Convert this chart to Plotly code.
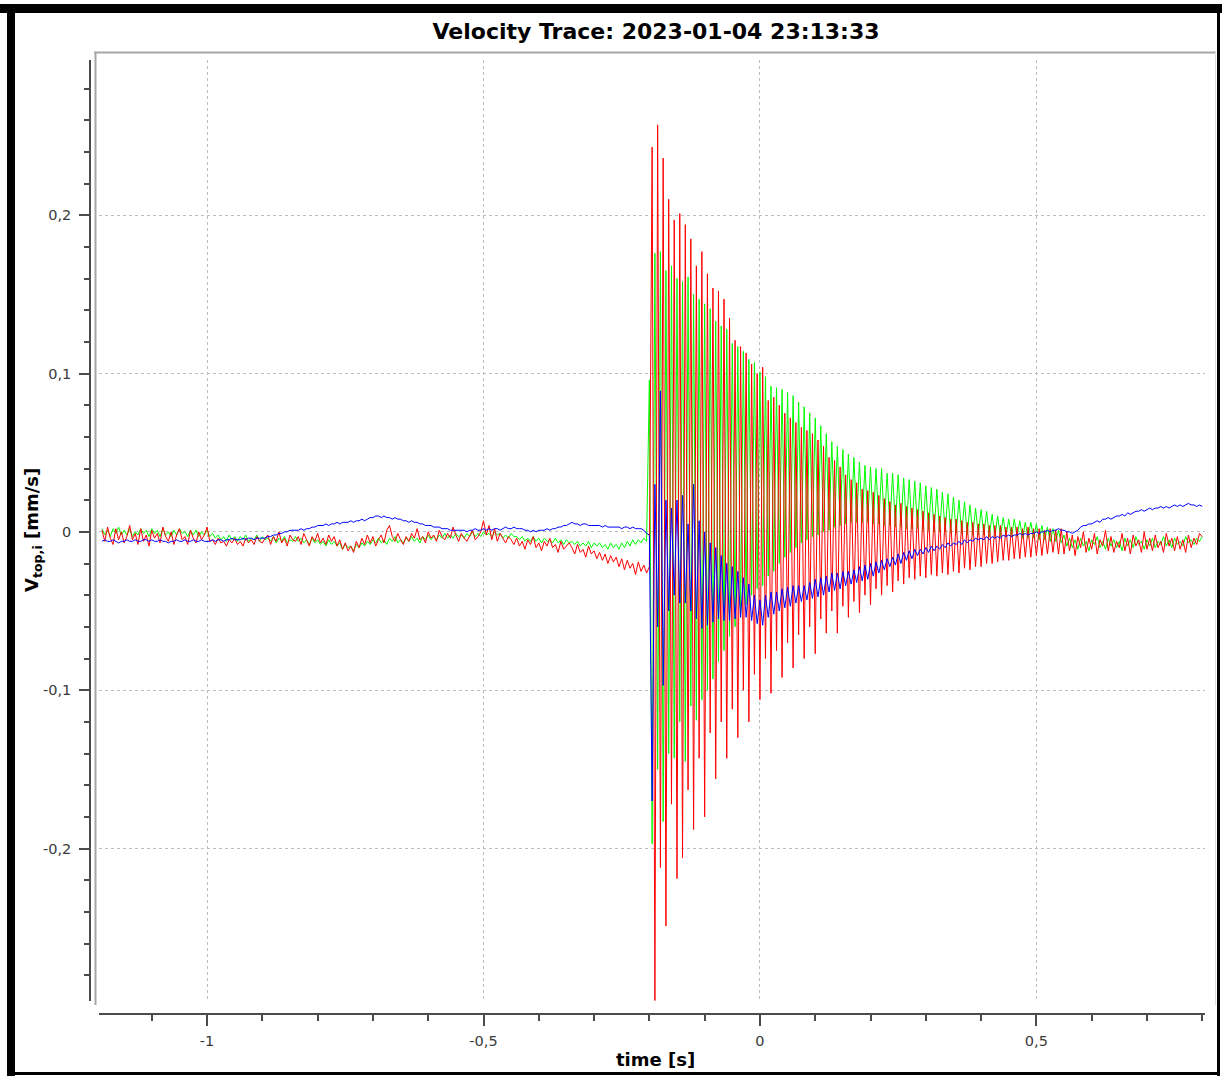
import plotly.graph_objects as go

# ---------------- sampling of the traces ----------------
T0 = -1.19      # s, first sample
DT = 0.005      # s, sample step

# values in thousandths of mm/s
# quiet part  (t = -1.19 ... -0.205 s, 198 samples)
RED_QUIET = [
    1, -6, 3, -4, -8, 2, -5, 0, -7, -3,
    4, -5, -1, -8, 2, -6, -2, -9, 1, -4,
    -1, -7, 3, -3, -6, 0, -8, -2, 2, -5,
    -3, -8, 1, -4, -7, 0, -5, -2, 3, -6,
    -5, -8, -4, -7, -6, -9, -5, -7, -4, -8,
    -6, -9, -4, -7, -5, -8, -3, -6, -7, -4,
    -2, -8, -3, -6, 0, -7, -4, -9, -2, -5,
    -6, -3, -8, -1, -5, -9, -3, -6, -1, -7,
    -4, -8, -2, -6, -3, -9, -5, -11, -7, -12,
    -9, -13, -6, -10, -4, -8, -2, -7, -3, -9,
    -5, -2, -7, 1, 4, -3, -6, -1, -5, -8,
    -3, -6, -1, -4, 2, -5, -3, -7, 0, -4,
    -2, -6, 1, -3, -5, -1, -4, 3, -2, -6,
    -1, -4, -6, -2, 1, -5, -3, 0, 7, -2,
    4, -5, 2, -6, -1, -4, -7, -3, -5, -8,
    -4, -9, -6, -11, -5, -8, -3, -10, -7, -12,
    -6, -9, -4, -10, -8, -13, -6, -11, -9, -7,
    -10, -14, -8, -13, -11, -16, -9, -14, -12, -17,
    -13, -18, -14, -20, -15, -19, -16, -22, -17, -24,
    -18, -23, -20, -27, -19, -25, -21, -26,
]
GREEN_QUIET = [
    2, -2, 1, -3, 2, -1, 3, -2, 1, -2,
    2, -3, 0, -2, 2, -1, 1, -3, 2, -1,
    1, -3, 2, -2, 0, -3, 1, -2, 2, -1,
    0, -3, 1, -2, 1, -3, 0, -2, 1, -3,
    -1, -4, -2, -5, -3, -6, -2, -5, -3, -6,
    -3, -5, -2, -6, -4, -5, -2, -6, -3, -5,
    -4, -6, -3, -7, -4, -6, -3, -7, -5, -6,
    -3, -6, -4, -7, -5, -8, -4, -7, -5, -8,
    -6, -9, -5, -8, -6, -9, -7, -11, -8, -10,
    -9, -12, -8, -10, -7, -9, -6, -8, -5, -7,
    -4, -7, -5, -8, -4, -6, -3, -7, -5, -7,
    -4, -6, -3, -6, -4, -7, -3, -5, -2, -5,
    -3, -5, -2, -4, -1, -4, -2, -4, -1, -3,
    -2, -4, -1, -3, 0, -3, -1, -3, 0, -2,
    -1, -3, 0, -2, -1, -4, -2, -4, -1, -3,
    -3, -5, -3, -6, -4, -6, -3, -6, -4, -7,
    -4, -6, -5, -7, -4, -7, -5, -8, -5, -7,
    -6, -8, -6, -9, -7, -9, -6, -10, -7, -9,
    -7, -10, -8, -11, -7, -10, -8, -11, -7, -10,
    -6, -9, -5, -8, -5, -7, -4, -6,
]
BLUE_QUIET = [
    -6, -5, -6, -6, -5, -6, -7, -6, -6, -5,
    -6, -6, -5, -6, -6, -5, -5, -6, -5, -6,
    -6, -5, -6, -6, -7, -6, -6, -5, -6, -6,
    -5, -6, -6, -5, -6, -6, -5, -6, -6, -6,
    -5, -6, -5, -5, -6, -5, -5, -4, -5, -5,
    -5, -4, -5, -4, -4, -5, -4, -4, -4, -4,
    -3, -3, -2, -2, -1, -1, 0, 0, 1, 1,
    1, 1, 2, 1, 2, 2, 3, 3, 4, 4,
    4, 5, 4, 5, 5, 6, 5, 6, 6, 6,
    7, 6, 7, 7, 8, 7, 8, 9, 9, 10,
    10, 9, 10, 9, 9, 8, 9, 8, 8, 7,
    7, 6, 7, 6, 6, 5, 5, 4, 4, 4,
    3, 3, 3, 2, 2, 2, 1, 1, 1, 1,
    1, 1, 0, 1, 1, 2, 1, 1, 2, 1,
    2, 1, 2, 2, 1, 2, 3, 2, 2, 3,
    2, 2, 2, 1, 1, 0, 1, 0, 1, 1,
    1, 2, 1, 2, 2, 3, 3, 4, 4, 5,
    6, 5, 5, 4, 5, 5, 4, 4, 4, 4,
    4, 3, 4, 3, 3, 3, 3, 3, 2, 3,
    3, 2, 3, 2, 2, 2, 1, -1,
]

# burst part (t = -0.2 ... 0.8 s, 201 samples)
RED_BURST = [
    -22, 243, -298, 257, -212, 236, -249, 210, -172, 197,
    -219, 201, -206, 194, -163, 185, -188, 168, -143, 177,
    -180, 163, -127, 154, -156, 152, -120, 147, -143, 135,
    -112, 121, -130, 117, -100, 113, -120, 106, -90, 100,
    -106, 104, -80, 83, -102, 85, -75, 80, -92, 75,
    -70, 72, -86, 69, -65, 66, -80, 64, -60, 62,
    -77, 58, -55, 54, -64, 47, -50, 45, -64, 41,
    -47, 36, -54, 33, -44, 31, -51, 27, -40, 26,
    -46, 25, -36, 23, -40, 21, -34, 19, -38, 17,
    -31, 18, -33, 16, -29, 15, -30, 14, -28, 13,
    -29, 12, -27, 11, -28, 10, -26, 9, -27, 8,
    -25, 8, -26, 7, -23, 6, -24, 6, -22, 5,
    -22, 5, -20, 4, -20, 4, -19, 4, -18, 3,
    -18, 3, -17, 3, -17, 2, -16, 3, -16, 2,
    -15, 2, -15, 1, -14, 2, -13, 1, -14, 2,
    -14, 0, -12, -2, -15, -3, -10, 0, -13, -4,
    -11, -1, -14, -5, -9, 1, -12, -3, -13, -6,
    -10, -1, -12, -4, -14, -2, -9, -5, -13, 0,
    -11, -4, -12, -2, -10, -6, -13, -1, -9, -4,
    -12, -3, -11, -5, -13, -2, -10, -4, -8, -1,
    -3,
]
GREEN_BURST = [
    96, -197, 176, -150, 177, -183, 165, -140, 168, -143,
    160, -120, 158, -145, 161, -110, 150, -119, 147, -106,
    144, -100, 141, -93, 133, -82, 130, -75, 128, -66,
    119, -60, 117, -54, 114, -46, 109, -40, 107, -36,
    101, -34, 98, -28, 92, -25, 91, -20, 90, -16,
    88, -13, 86, -10, 82, -7, 79, -5, 75, -3,
    72, -2, 67, 0, 62, 1, 57, 3, 54, 4,
    52, 5, 49, 6, 47, 6, 44, 6, 42, 6,
    41, 5, 40, 5, 40, 4, 37, 4, 37, 3,
    36, 3, 34, 2, 33, 2, 32, 2, 31, 1,
    29, 1, 28, 0, 27, 0, 25, 0, 24, -1,
    22, -1, 20, -1, 19, -2, 17, -2, 15, -2,
    14, -2, 13, -3, 11, -3, 10, -3, 9, -3,
    8, -3, 8, -3, 7, -4, 6, -4, 6, -4,
    5, -5, 4, -5, 3, -6, 2, -6, 1, -7,
    -2, -9, -4, -10, -5, -11, -4, -9, -6, -12,
    -5, -8, -3, -10, -6, -11, -4, -9, -5, -10,
    -6, -12, -4, -9, -5, -10, -3, -8, -6, -11,
    -5, -9, -4, -10, -6, -8, -3, -9, -5, -10,
    -4, -8, -6, -9, -3, -7, -5, -8, -4, -6,
    -3,
]
BLUE_BURST = [
    -2, -170, 30, -60, 89, -97, 20, -50, 15, -40,
    20, -45, 23, -45, 5, -50, 30, -55, 7, -61,
    0, -59, -7, -57, -10, -55, -15, -56, -20, -56,
    -22, -55, -25, -54, -29, -54, -33, -56, -40, -58,
    -43, -59, -40, -54, -38, -52, -38, -50, -36, -48,
    -35, -47, -34, -45, -34, -44, -34, -43, -32, -42,
    -30, -41, -29, -40, -28, -38, -26, -37, -26, -36,
    -25, -34, -25, -33, -24, -32, -22, -31, -21, -30,
    -20, -28, -19, -26, -18, -24, -17, -22, -16, -21,
    -14, -20, -13, -18, -12, -17, -11, -15, -11, -14,
    -10, -13, -9, -12, -9, -11, -8, -10, -7, -9,
    -7, -8, -6, -8, -5, -7, -5, -6, -4, -5,
    -4, -5, -3, -5, -3, -4, -3, -4, -2, -3,
    -2, -3, -2, -2, -1, -2, -1, -2, -1, -1,
    0, -1, 0, 0, 1, 0, 1, 1, 2, 1,
    1, 0, 0, -1, 0, 1, 3, 4, 4, 5,
    5, 6, 7, 6, 8, 8, 9, 8, 9, 10,
    10, 11, 10, 12, 11, 12, 13, 13, 14, 13,
    14, 15, 14, 15, 15, 16, 15, 16, 15, 16,
    17, 16, 17, 16, 17, 18, 17, 17, 16, 17,
    16,
]

X_TICKS = [-1, -0.5, 0, 0.5]
X_LABELS = ["-1", "-0,5", "0", "0,5"]
Y_TICKS = [-0.2, -0.1, 0, 0.1, 0.2]
Y_LABELS = ["-0,2", "-0,1", "0", "0,1", "0,2"]

TITLE = "Velocity Trace: 2023-01-04 23:13:33"
X_TITLE = "time [s]"
Y_TITLE = "V<sub>top,i</sub> [mm/s]"

for name, q, b in (("red", RED_QUIET, RED_BURST), ("green", GREEN_QUIET, GREEN_BURST),
                   ("blue", BLUE_QUIET, BLUE_BURST)):
    if len(q) != 198 or len(b) != 201:
        raise SystemExit(f"{name}: quiet {len(q)} burst {len(b)}")


def to_mm(vals):
    return [v / 1000.0 for v in vals]


red = to_mm(RED_QUIET + RED_BURST)
green = to_mm(GREEN_QUIET + GREEN_BURST)
blue = to_mm(BLUE_QUIET + BLUE_BURST)
t = [round(T0 + DT * i, 4) for i in range(len(red))]

# ---------------- layout geometry (pixels) ----------------
W, H = 1222, 1076
ML, MR, MT, MB = 90, 17, 60, 62
PW = W - ML - MR
PH = H - MT - MB


def px(x):
    return (x - ML) / PW


def py(y):
    return (H - MB - y) / PH


AX = "#4b4b4b"
GRID = "#bdbdbd"
TICKFONT = dict(family="DejaVu Sans", size=14.5, color="#3a3a3a")

fig = go.Figure()
for vals, col in ((green, "#00ff00"), (red, "#ff0000"), (blue, "#0000ff")):
    fig.add_trace(go.Scatter(x=t, y=vals, mode="lines",
                             line=dict(color=col, width=1),
                             hoverinfo="skip", showlegend=False))

fig.update_layout(
    width=W, height=H,
    margin=dict(l=ML, r=MR, t=MT, b=MB, pad=0),
    paper_bgcolor="white", plot_bgcolor="white",
    separators=",.",
    showlegend=False,
    title=dict(text="<b>" + TITLE + "</b>", x=px(656), xref="paper", xanchor="center",
               y=1 - 31 / H, yref="container", yanchor="middle",
               font=dict(family="DejaVu Sans", size=22, color="black")),
    xaxis=dict(domain=[px(99.25), 1], range=[-1.195, 0.805], anchor="free", position=0,
               showline=True, linecolor=AX, linewidth=1.5,
               tickmode="array", tickvals=X_TICKS, ticktext=X_LABELS,
               ticks="outside", ticklen=11, tickwidth=1.5, tickcolor=AX,
               tickfont=TICKFONT, ticklabelstandoff=3,
               showgrid=True, gridcolor=GRID, griddash="dot", gridwidth=1,
               zeroline=False,
               minor=dict(tickmode="linear", tick0=0, dtick=0.1, ticks="outside",
                          ticklen=6, tickwidth=1.5, tickcolor=AX, showgrid=False)),
    yaxis=dict(domain=[py(1000.5), 1], range=[-0.296, 0.298], anchor="free", position=0,
               showline=True, linecolor=AX, linewidth=1.5,
               tickmode="array", tickvals=Y_TICKS, ticktext=Y_LABELS,
               ticks="outside", ticklen=10, tickwidth=1.5, tickcolor=AX,
               tickfont=TICKFONT, ticklabelstandoff=5,
               showgrid=True, gridcolor=GRID, griddash="dot", gridwidth=1,
               zeroline=False,
               minor=dict(tickmode="linear", tick0=0, dtick=0.02, ticks="outside",
                          ticklen=5, tickwidth=1.5, tickcolor=AX, showgrid=False)),
)

fig.add_annotation(text="<b>" + X_TITLE + "</b>", x=px(655), y=py(1059),
                   xref="paper", yref="paper", xanchor="center", yanchor="middle",
                   showarrow=False, font=dict(family="DejaVu Sans", size=18, color="black"))
fig.add_annotation(text="<b>" + Y_TITLE + "</b>", x=px(33), y=py(530), textangle=-90,
                   xref="paper", yref="paper", xanchor="center", yanchor="middle",
                   showarrow=False, font=dict(family="DejaVu Sans", size=18, color="black"))


def rect(x0, y0, x1, y1, color):
    fig.add_shape(type="rect", xref="paper", yref="paper",
                  x0=px(x0), x1=px(x1), y0=py(y1), y1=py(y0),
                  line=dict(width=0), fillcolor=color, layer="above")


def hline(x0, x1, y, color, width):
    fig.add_shape(type="line", xref="paper", yref="paper",
                  x0=px(x0), x1=px(x1), y0=py(y), y1=py(y),
                  line=dict(color=color, width=width), layer="above")


def vline(x, y0, y1, color, width):
    fig.add_shape(type="line", xref="paper", yref="paper",
                  x0=px(x), x1=px(x), y0=py(y0), y1=py(y1),
                  line=dict(color=color, width=width), layer="above")


# canvas frame (sunken look)
hline(94, 1216, 52.5, "#a6a6a6", 2)
vline(95.5, 52, 1005, "#a6a6a6", 2)
vline(1215.5, 52, 1005, "#dcdcdc", 1)

# outer window border
rect(0, 4, W, 13, "black")
rect(7, 4, 15, H, "black")
rect(1217, 4, 1220, H, "black")
rect(7, 1072, 1220, 1075, "black")

fig.write_html("out.html",
               config={"displayModeBar": False},
               post_script="document.body.style.margin='0';"
                           "document.body.style.overflow='hidden';")
